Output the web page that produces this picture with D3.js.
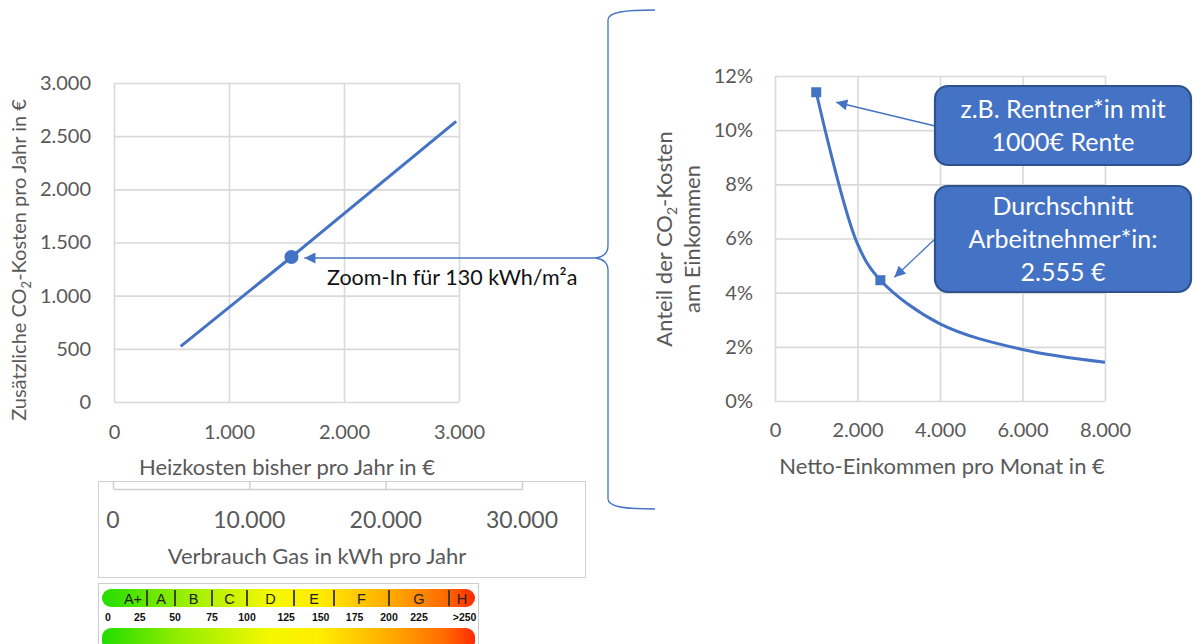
<!DOCTYPE html>
<html>
<head>
<meta charset="utf-8">
<script src="https://cdn.jsdelivr.net/npm/d3@7"></script>
<style>
body { margin: 0; background: #fff; }
text { font-family: Lato, "Open Sans", sans-serif; }
</style>
</head>
<body>
<svg id="chart" width="1193" height="644"></svg>
<script>
// left chart: heating costs vs additional CO2 costs
var heizkosten = [580, 1543, 2975];
var co2Kosten = [523, 1364, 2639];
var zoomPunkt = { x: 1543, y: 1364 };
var heizTicks = [0, 1000, 2000, 3000];
var co2Ticks = [0, 500, 1000, 1500, 2000, 2500, 3000];
var gasTicks = [0, 10000, 20000, 30000];

// right chart: share of income
var einkommen = [1000, 2000, 2555, 4000, 6000, 8000];
var anteil = [0.114, 0.058, 0.0446, 0.0285, 0.019, 0.0143];
var markerIdx = [0, 2];
var einkTicks = [0, 2000, 4000, 6000, 8000];
var anteilTicks = [0, 0.02, 0.04, 0.06, 0.08, 0.10, 0.12];

// energy label
var klassen = ['A+', 'A', 'B', 'C', 'D', 'E', 'F', 'G', 'H'];
var klassenGrenzen = [0, 30, 50, 75, 100, 130, 160, 200, 250, 270];
var skalaWerte = [0, 25, 50, 75, 100, 125, 150, 175, 200, 225, 262];
var skalaLabels = ['0', '25', '50', '75', '100', '125', '150', '175', '200', '225', '>250'];

var blue = '#4472C4';
var grid = '#d9d9d9';
var grey = '#595959';

var de = d3.formatLocale({ decimal: ',', thousands: '.', grouping: [3], currency: ['', ' €'] });
var fmtNum = de.format(',d');
var fmtPct = function (d) { return Math.round(d * 100) + '%'; };

var svg = d3.select('#chart');
svg.append('rect').attr('width', 1193).attr('height', 644).attr('fill', '#fff');

var defs = svg.append('defs');
function arrowMarker(id, w, h) {
    defs.append('marker')
        .attr('id', id)
        .attr('viewBox', '0 0 10 10')
        .attr('refX', 10).attr('refY', 5)
        .attr('markerUnits', 'userSpaceOnUse')
        .attr('markerWidth', w).attr('markerHeight', h)
        .attr('orient', 'auto')
        .append('path').attr('d', 'M0,0L10,5L0,10Z').attr('fill', blue);
}
arrowMarker('arrow', 13, 11);

function styleAxis(g) {
    g.select('.domain').remove();
    g.selectAll('.tick line').attr('stroke', grid).attr('stroke-width', 1.6);
    g.selectAll('.tick text').attr('fill', grey).attr('font-size', 20);
}

// ---------- left chart ----------
var x1 = d3.scaleLinear().domain([0, 3000]).range([114, 459]);
var y1 = d3.scaleLinear().domain([0, 3000]).range([402, 83]);

svg.append('g')
    .attr('transform', 'translate(0,402)')
    .call(d3.axisBottom(x1).tickValues(heizTicks).tickFormat(fmtNum)
        .tickSizeInner(-(402 - 83)).tickSizeOuter(0).tickPadding(23))
    .call(styleAxis);

svg.append('g')
    .attr('transform', 'translate(114,0)')
    .call(d3.axisLeft(y1).tickValues(co2Ticks).tickFormat(fmtNum)
        .tickSizeInner(-(459 - 114)).tickSizeOuter(0).tickPadding(23))
    .call(styleAxis);

var linie1 = d3.line().x(d => x1(d[0])).y(d => y1(d[1]));
svg.append('path')
    .datum(d3.zip(heizkosten, co2Kosten))
    .attr('d', linie1)
    .attr('fill', 'none').attr('stroke', blue).attr('stroke-width', 3);

svg.append('circle')
    .attr('cx', x1(zoomPunkt.x)).attr('cy', y1(zoomPunkt.y)).attr('r', 7)
    .attr('fill', blue);

svg.append('text')
    .attr('x', 287).attr('y', 467).attr('dy', '0.35em')
    .attr('text-anchor', 'middle').attr('font-size', 22).attr('fill', grey)
    .text('Heizkosten bisher pro Jahr in €');

var yt1 = svg.append('text')
    .attr('transform', 'translate(19,260) rotate(-90)')
    .attr('dy', '0.35em')
    .attr('text-anchor', 'middle').attr('font-size', 20).attr('fill', grey);
yt1.append('tspan').text('Zusätzliche CO');
yt1.append('tspan').attr('font-size', 13).attr('dy', 5).text('2');
yt1.append('tspan').attr('dy', -5).text('-Kosten pro Jahr in €');

svg.append('text')
    .attr('x', 327).attr('y', 285)
    .attr('font-size', 21.5).attr('fill', '#111')
    .text('Zoom-In für 130 kWh/m²a');

// brace + arrow to the dot
svg.append('path')
    .attr('d', 'M655,10 C625,10 608,12 608,20 L608,246 C608,254 602,257 596,258'
        + ' M655,509 C625,509 608,507 608,499 L608,270 C608,262 602,259 596,258')
    .attr('fill', 'none').attr('stroke', blue).attr('stroke-width', 1.3);

svg.append('line')
    .attr('x1', 597).attr('y1', 258)
    .attr('x2', x1(zoomPunkt.x) + 13).attr('y2', 258)
    .attr('stroke', blue).attr('stroke-width', 1.3)
    .attr('marker-end', 'url(#arrow)');

// ---------- gas axis panel ----------
var xGas = d3.scaleLinear().domain([0, 30000]).range([113, 522]);
svg.append('rect')
    .attr('x', 98.5).attr('y', 481.5).attr('width', 487).attr('height', 96)
    .attr('fill', '#fff').attr('stroke', '#d0d0d0');

var gasG = svg.append('g').attr('transform', 'translate(0,489)');
gasG.call(d3.axisTop(xGas).tickValues(gasTicks).tickFormat('').tickSize(8).tickSizeOuter(0));
gasG.selectAll('path, line').attr('stroke', '#cfcfcf').attr('stroke-width', 1.5);

svg.selectAll('text.gas')
    .data(gasTicks).enter().append('text')
    .attr('class', 'gas')
    .attr('x', d => xGas(d)).attr('y', 520).attr('dy', '0.35em')
    .attr('text-anchor', 'middle').attr('font-size', 23).attr('fill', grey)
    .text(fmtNum);

svg.append('text')
    .attr('x', 317).attr('y', 556).attr('dy', '0.35em')
    .attr('text-anchor', 'middle').attr('font-size', 22).attr('fill', grey)
    .text('Verbrauch Gas in kWh pro Jahr');

// ---------- energy label ----------
var xE = d3.scaleLinear().domain(klassenGrenzen)
    .range([104, 147, 175, 212, 247, 294, 334, 389, 449, 475]);

svg.append('rect')
    .attr('x', 98.5).attr('y', 583.5).attr('width', 380).attr('height', 70)
    .attr('fill', '#fff').attr('stroke', '#cccccc');

var grad = defs.append('linearGradient').attr('id', 'eg')
    .attr('x1', '0%').attr('x2', '100%');
[[0, '#22dd00'], [0.22, '#99ee00'], [0.45, '#f4f800'], [0.58, '#ffee00'],
 [0.78, '#ffa800'], [0.92, '#ff6a00'], [1, '#ff2a00']]
    .forEach(s => grad.append('stop').attr('offset', s[0]).attr('stop-color', s[1]));

svg.append('rect')
    .attr('x', 102).attr('y', 589).attr('width', 373).attr('height', 18).attr('rx', 9)
    .attr('fill', 'url(#eg)');
svg.append('rect')
    .attr('x', 102).attr('y', 628).attr('width', 373).attr('height', 22).attr('rx', 9)
    .attr('fill', 'url(#eg)');

svg.selectAll('line.sep')
    .data(klassenGrenzen.slice(1, -1)).enter().append('line')
    .attr('class', 'sep')
    .attr('x1', d => xE(d)).attr('x2', d => xE(d))
    .attr('y1', 590).attr('y2', 606)
    .attr('stroke', '#333').attr('stroke-width', 1.8);

svg.selectAll('text.klasse')
    .data(klassen).enter().append('text')
    .attr('class', 'klasse')
    .attr('x', (d, i) => i === 0 ? 133 : (xE(klassenGrenzen[i]) + xE(klassenGrenzen[i + 1])) / 2)
    .attr('y', 598).attr('dy', '0.38em')
    .attr('text-anchor', 'middle')
    .style('font-family', 'Arial, "Liberation Sans", sans-serif')
    .attr('font-size', 14.5).attr('fill', '#222')
    .text(d => d);

svg.selectAll('text.skala')
    .data(skalaWerte).enter().append('text')
    .attr('class', 'skala')
    .attr('x', (d, i) => i === 0 ? 108 : xE(d))
    .attr('y', 617).attr('dy', '0.35em')
    .attr('text-anchor', 'middle')
    .style('font-family', 'Arial, "Liberation Sans", sans-serif')
    .attr('font-size', 10.5).attr('font-weight', 'bold').attr('fill', '#111')
    .text((d, i) => skalaLabels[i]);

// ---------- right chart ----------
var x2 = d3.scaleLinear().domain([0, 8000]).range([775, 1105]);
var y2 = d3.scaleLinear().domain([0, 0.12]).range([401, 76]);

svg.append('g')
    .attr('transform', 'translate(0,401)')
    .call(d3.axisBottom(x2).tickValues(einkTicks).tickFormat(fmtNum)
        .tickSizeInner(-(401 - 76)).tickSizeOuter(0).tickPadding(22))
    .call(styleAxis);

svg.append('g')
    .attr('transform', 'translate(775,0)')
    .call(d3.axisLeft(y2).tickValues(anteilTicks).tickFormat(fmtPct)
        .tickSizeInner(-(1105 - 775)).tickSizeOuter(0).tickPadding(22))
    .call(styleAxis);

var linie2 = d3.line().x(d => x2(d[0])).y(d => y2(d[1])).curve(d3.curveCatmullRom.alpha(0.5));
svg.append('path')
    .datum(d3.zip(einkommen, anteil))
    .attr('d', linie2)
    .attr('fill', 'none').attr('stroke', blue).attr('stroke-width', 3);

svg.selectAll('rect.mk')
    .data(markerIdx).enter().append('rect')
    .attr('class', 'mk')
    .attr('x', i => x2(einkommen[i]) - 5).attr('y', i => y2(anteil[i]) - 5)
    .attr('width', 10).attr('height', 10)
    .attr('fill', blue);

svg.append('text')
    .attr('x', 942).attr('y', 466).attr('dy', '0.35em')
    .attr('text-anchor', 'middle').attr('font-size', 22).attr('fill', grey)
    .text('Netto-Einkommen pro Monat in €');

var yt2 = svg.append('text')
    .attr('transform', 'translate(664,239) rotate(-90)')
    .attr('dy', '0.35em')
    .attr('text-anchor', 'middle').attr('font-size', 22).attr('fill', grey);
yt2.append('tspan').text('Anteil der CO');
yt2.append('tspan').attr('font-size', 14).attr('dy', 5).text('2');
yt2.append('tspan').attr('dy', -5).text('-Kosten');

svg.append('text')
    .attr('transform', 'translate(692,239) rotate(-90)')
    .attr('dy', '0.35em')
    .attr('text-anchor', 'middle').attr('font-size', 22).attr('fill', grey)
    .text('am Einkommen');

// callouts
var callouts = [
    { y: 86, h: 79, lines: ['z.B. Rentner*in mit', '1000€ Rente'], from: [935, 126], idx: 0 },
    { y: 186, h: 106, lines: ['Durchschnitt', 'Arbeitnehmer*in:', '2.555 €'], from: [935, 239], idx: 2 }
];

callouts.forEach(function (c) {
    var px = x2(einkommen[c.idx]), py = y2(anteil[c.idx]);
    var tx = c.idx === 0 ? px + 20 : px + 14;
    var ty = c.idx === 0 ? py + 10 : py - 3;
    svg.append('line')
        .attr('x1', c.from[0]).attr('y1', c.from[1])
        .attr('x2', tx).attr('y2', ty)
        .attr('stroke', blue).attr('stroke-width', 1.3)
        .attr('marker-end', 'url(#arrow)');
    svg.append('rect')
        .attr('x', 935).attr('y', c.y).attr('width', 256).attr('height', c.h)
        .attr('rx', 13)
        .attr('fill', blue).attr('stroke', '#2F528F').attr('stroke-width', 2.2);
    var step = 33;
    var y0 = c.y + c.h / 2 - (c.lines.length - 1) * step / 2;
    c.lines.forEach(function (t, i) {
        svg.append('text')
            .attr('x', 1063).attr('y', y0 + i * step).attr('dy', '0.35em')
            .attr('text-anchor', 'middle').attr('font-size', 25).attr('fill', '#fff')
            .text(t);
    });
});
</script>
</body>
</html>
